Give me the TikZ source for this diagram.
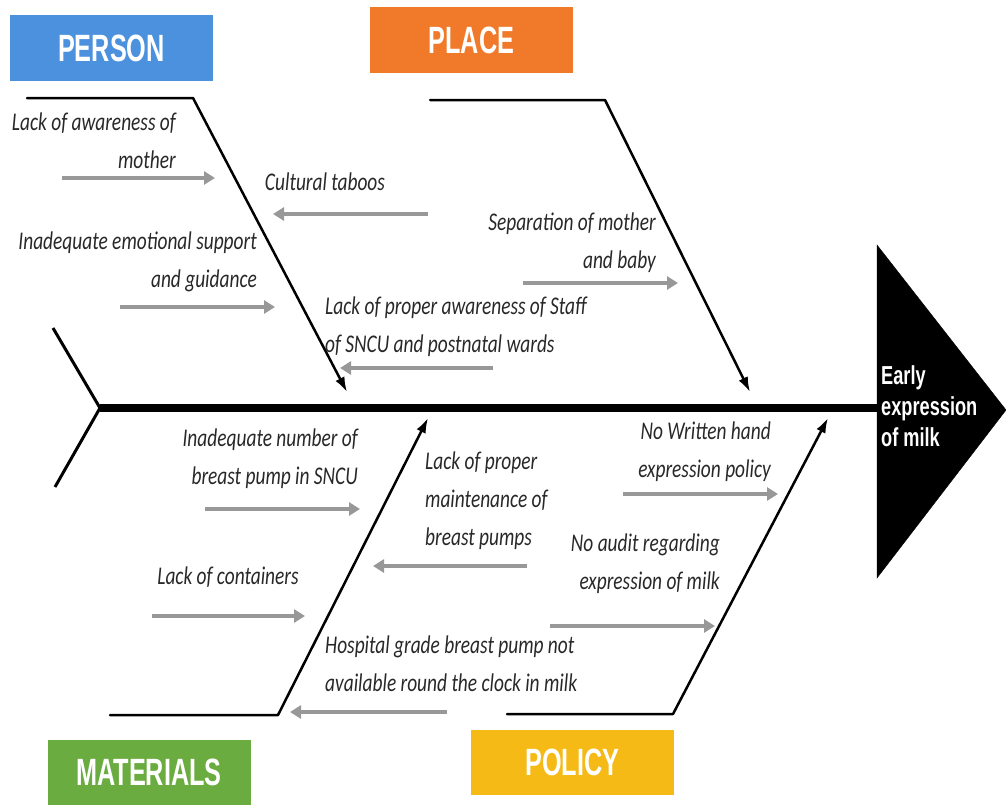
\documentclass[tikz,border=0pt]{standalone}
\usepackage{fontspec}
\setmainfont{Carlito}
\newfontfamily\causefont{Carlito}[FakeStretch=0.76]
\newfontfamily\boxfont{Liberation Sans}[FakeStretch=0.665]
\newfontfamily\headfont{Liberation Sans}[FakeStretch=0.7]
\usetikzlibrary{arrows.meta}

\definecolor{personblue}{RGB}{76,145,222}
\definecolor{placeorange}{RGB}{240,122,42}
\definecolor{matgreen}{RGB}{106,172,64}
\definecolor{policygold}{RGB}{245,186,22}
\definecolor{arrowgray}{RGB}{152,152,152}
\definecolor{causetext}{RGB}{40,40,40}

\tikzset{
  catbox/.style={minimum width=203pt, minimum height=65pt, inner sep=0pt,
    text=white, font=\boxfont\bfseries\fontsize{38}{38}\selectfont},
  cause/.style={inner sep=0pt, text=causetext,
    font=\causefont\itshape\fontsize{25.5}{38}\selectfont},
  grayarrow/.style={draw=arrowgray, line width=3.8pt,
    -{Triangle[length=11pt,width=13pt]}},
  bone/.style={line width=2.5pt, line cap=round, line join=round},
  bonearrow/.style={bone, -{Latex[length=15pt,width=10pt]}}
}

\begin{document}
\begin{tikzpicture}[x=1pt,y=-1pt]
\useasboundingbox (0,0) rectangle (1006,808);

% category boxes
\node[catbox, fill=personblue] (person) at (111.5,48) {PERSON};
\node[catbox, fill=placeorange] (place) at (471.5,40) {PLACE};
\node[catbox, fill=matgreen] (materials) at (149,772) {MATERIALS};
\node[catbox, fill=policygold] (policy) at (572.5,762) {POLICY};

% head and spine
\coordinate (tail) at (100,408);
\coordinate (tailtop) at (53,328);
\coordinate (tailbot) at (55,487);
\coordinate (headtop) at (877,245);
\coordinate (headbot) at (877,578);
\coordinate (headtip) at (1006,410);
\draw[fill=black] (headtop)--(headtip)--(headbot)--cycle;
\draw[line width=8pt] (tail)--(headtop |- tail);
\draw[line width=3pt] (tailtop)--(tail)--(tailbot);
\node[anchor=west, align=left, inner sep=0pt, text=white,
  font=\headfont\bfseries\fontsize{26}{31}\selectfont] (effect) at (881,406)
  {Early\\expression\\of milk};

% bones
\coordinate (pe0) at (27,98);   \coordinate (pe1) at (193,98);   \coordinate (pe2) at (347,392);
\coordinate (pl0) at (430,100); \coordinate (pl1) at (605,100);  \coordinate (pl2) at (750,392);
\coordinate (ma0) at (110,715); \coordinate (ma1) at (278,715);  \coordinate (ma2) at (428,418);
\coordinate (po0) at (507,714); \coordinate (po1) at (673,714);  \coordinate (po2) at (828,418);
\draw[bonearrow] (pe0)--(pe1)--(pe2);
\draw[bonearrow] (pl0)--(pl1)--(pl2);
\draw[bonearrow] (ma0)--(ma1)--(ma2);
\draw[bonearrow] (po0)--(po1)--(po2);

% person causes
\node[cause, anchor=east, align=right] (awmother) at (176,141) {Lack of awareness of\\mother};
\coordinate (a1) at (62,178);  \coordinate (b1) at (215,178);
\draw[grayarrow] (a1)--(b1);
\node[cause] (taboos) at (325,182) {Cultural taboos};
\coordinate (a2) at (428,214); \coordinate (b2) at (273,214);
\draw[grayarrow] (a2)--(b2);
\node[cause, anchor=east, align=right] (emosupport) at (257,262) {Inadequate emotional support\\and guidance};
\coordinate (a3) at (120,307); \coordinate (b3) at (275,307);
\draw[grayarrow] (a3)--(b3);
\node[cause, anchor=west, align=left] (staffaware) at (325,327) {Lack of proper awareness of Staff\\of SNCU and postnatal wards};
\coordinate (a4) at (493,368); \coordinate (b4) at (340,368);
\draw[grayarrow] (a4)--(b4);

% place causes
\node[cause, anchor=east, align=right] (separation) at (656,243) {Separation of mother\\and baby};
\coordinate (a5) at (523,283); \coordinate (b5) at (678,283);
\draw[grayarrow] (a5)--(b5);

% materials causes
\node[cause, anchor=east, align=right] (pumpnumber) at (358,459) {Inadequate number of\\breast pump in SNCU};
\coordinate (a6) at (205,509); \coordinate (b6) at (360,509);
\draw[grayarrow] (a6)--(b6);
\node[cause, anchor=west, align=left] (maintenance) at (425,501) {Lack of proper\\maintenance of\\breast pumps};
\coordinate (a7) at (527,566); \coordinate (b7) at (373,566);
\draw[grayarrow] (a7)--(b7);
\node[cause] (containers) at (228,577) {Lack of containers};
\coordinate (a8) at (152,616); \coordinate (b8) at (305,616);
\draw[grayarrow] (a8)--(b8);
\node[cause, anchor=west, align=left] (hospgrade) at (325,664) {Hospital grade breast pump not\\available round the clock in milk};
\coordinate (a9) at (447,712); \coordinate (b9) at (290,712);
\draw[grayarrow] (a9)--(b9);

% policy causes
\node[cause, anchor=east, align=right] (handpolicy) at (771,452) {No Written hand\\expression policy};
\coordinate (a10) at (623,494); \coordinate (b10) at (778,494);
\draw[grayarrow] (a10)--(b10);
\node[cause, anchor=east, align=right] (audit) at (720,564) {No audit regarding\\expression of milk};
\coordinate (a11) at (550,626); \coordinate (b11) at (715,626);
\draw[grayarrow] (a11)--(b11);

\end{tikzpicture}
\end{document}
